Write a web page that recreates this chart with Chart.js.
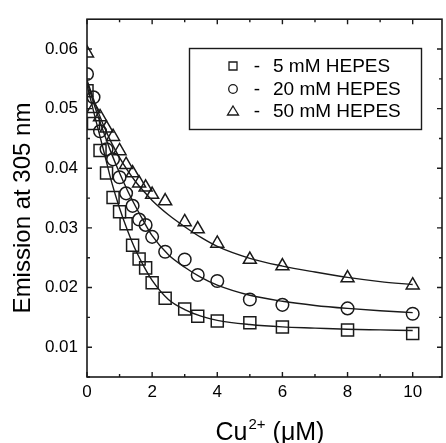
<!DOCTYPE html>
<html>
<head>
<meta charset="utf-8">
<script src="https://cdn.jsdelivr.net/npm/chart.js@4.4.0/dist/chart.umd.min.js"></script>
<style>
  html, body { margin: 0; padding: 0; background: #fff; overflow: hidden; width: 446px; height: 443px; }
  #wrap { position: relative; width: 452px; height: 443px; }
</style>
</head>
<body>
<div id="wrap"><canvas id="c" width="452" height="443"></canvas></div>
<script>
// ---- data ----
const cuConc = [0, 0.2, 0.4, 0.6, 0.8, 1.0, 1.2, 1.4, 1.6, 1.8, 2.0, 2.4, 3.0, 3.4, 4.0, 5.0, 6.0, 8.0, 10.0];
const hepes5  = [0.0530,0.0475,0.0430,0.0392,0.0351,0.0327,0.0307,0.0271,0.0248,0.0233,0.0208,0.0182,0.0164,0.0152,0.0144,0.0141,0.0134,0.0129,0.0123];
const hepes20 = [0.0558,0.0519,0.0462,0.0432,0.0415,0.0385,0.0358,0.0337,0.0314,0.0305,0.0285,0.0260,0.0247,0.0221,0.0211,0.0180,0.0171,0.0165,0.0156];
const hepes50 = [0.0593,0.0500,0.0486,0.0467,0.0453,0.0429,0.0406,0.0392,0.0375,0.0368,0.0356,0.0345,0.0310,0.0298,0.0274,0.0247,0.0236,0.0216,0.0204];

const fitConc = [0, 0.25, 0.5, 0.75, 1, 1.25, 1.5, 1.75, 2, 2.5, 3, 3.5, 4, 5, 6, 7, 8, 9, 10];
const fit5  = [0.0540,0.0485,0.0432,0.0378,0.0333,0.0295,0.0262,0.0235,0.0212,0.0180,0.0163,0.0152,0.0145,0.0138,0.0134,0.0132,0.0130,0.0129,0.0128];
const fit20 = [0.0545,0.0502,0.0462,0.0425,0.0392,0.0362,0.0335,0.0310,0.0287,0.0255,0.0234,0.0217,0.0204,0.0187,0.0177,0.0170,0.0165,0.0161,0.0158];
const fit50 = [0.0548,0.0508,0.0473,0.0443,0.0418,0.0396,0.0377,0.0361,0.0346,0.0322,0.0302,0.0284,0.0269,0.0249,0.0236,0.0226,0.0217,0.0210,0.0205];

const seriesNames = ['5 mM HEPES', '20 mM HEPES', '50 mM HEPES'];
const xTicks = [0, 2, 4, 6, 8, 10];
const xMinor = [1, 3, 5, 7, 9];
const yTicks = [0.01, 0.02, 0.03, 0.04, 0.05, 0.06];
const yMinor = [0.005, 0.015, 0.025, 0.035, 0.045, 0.055];
const xTitle = ['Cu', '2+', ' (\u03bcM)'];
const yTitle = 'Emission at 305 nm';

const FONT = '"Liberation Sans", Arial, sans-serif';
const INK = '#1a1a1a';

function pts(xs, ys) { return xs.map((x, i) => ({ x: x, y: ys[i] })); }

function fitDs(ys) {
  return { type: 'line', data: pts(fitConc, ys), borderColor: INK, borderWidth: 1.4,
    pointRadius: 0, fill: false, cubicInterpolationMode: 'monotone', order: 2 };
}
function markDs(label, ys, style, r) {
  return { type: 'scatter', label: label, data: pts(cuConc, ys), pointStyle: style, pointRadius: r,
    pointHoverRadius: r, borderColor: INK, backgroundColor: 'rgba(0,0,0,0)', pointBorderWidth: 1.5,
    showLine: false, order: 1 };
}

const frame = {
  id: 'frame',
  afterDraw(chart) {
    const ctx = chart.ctx, a = chart.chartArea;
    const xs = chart.scales.x, ys = chart.scales.y;
    ctx.save();
    ctx.strokeStyle = INK;
    ctx.lineWidth = 1.6;
    ctx.strokeRect(a.left, a.top, a.right - a.left, a.bottom - a.top);
    ctx.lineWidth = 1.4;
    ctx.beginPath();
    const tickX = (v, len) => {
      const p = xs.getPixelForValue(v);
      ctx.moveTo(p, a.bottom); ctx.lineTo(p, a.bottom - len);
      ctx.moveTo(p, a.top); ctx.lineTo(p, a.top + len);
    };
    const tickY = (v, len) => {
      const p = ys.getPixelForValue(v);
      ctx.moveTo(a.left, p); ctx.lineTo(a.left + len, p);
      ctx.moveTo(a.right, p); ctx.lineTo(a.right - len, p);
    };
    xTicks.forEach(v => tickX(v, 5)); xMinor.forEach(v => tickX(v, 3));
    yTicks.forEach(v => tickY(v, 5)); yMinor.forEach(v => tickY(v, 3));
    ctx.stroke();

    // legend box
    ctx.lineWidth = 1.4;
    ctx.strokeRect(189.5, 48.5, 232, 81);
    ctx.fillStyle = '#000';
    ctx.font = '19px ' + FONT;
    ctx.textBaseline = 'alphabetic';
    const base = [72, 95, 117];
    const cy = [66, 89, 111];
    seriesNames.forEach((n, i) => {
      ctx.textAlign = 'center';
      ctx.fillText('-', 257, base[i]);
      ctx.textAlign = 'left';
      ctx.fillText(n, 273, base[i]);
    });
    ctx.lineWidth = 1.3;
    ctx.beginPath(); ctx.rect(229, cy[0] - 4, 8, 8); ctx.stroke();
    ctx.beginPath(); ctx.arc(233, cy[1], 4.3, 0, Math.PI * 2); ctx.stroke();
    ctx.beginPath(); ctx.moveTo(233, cy[2] - 5); ctx.lineTo(238.5, cy[2] + 4); ctx.lineTo(227.5, cy[2] + 4); ctx.closePath(); ctx.stroke();

    // axis titles
    ctx.fillStyle = '#000';
    ctx.save();
    ctx.translate(30, 208);
    ctx.rotate(-Math.PI / 2);
    ctx.textAlign = 'center';
    ctx.font = '24px ' + FONT;
    ctx.fillText(yTitle, 0, 0);
    ctx.restore();

    ctx.textAlign = 'left';
    ctx.font = '25px ' + FONT;
    const w0 = ctx.measureText(xTitle[0]).width;
    ctx.font = '15px ' + FONT;
    const w1 = ctx.measureText(xTitle[1]).width;
    ctx.font = '25px ' + FONT;
    const w2 = ctx.measureText(xTitle[2]).width;
    let x0 = 270 - (w0 + w1 + 1 + w2) / 2;
    ctx.fillText(xTitle[0], x0, 440);
    ctx.font = '15px ' + FONT;
    ctx.fillText(xTitle[1], x0 + w0 + 1, 429);
    ctx.font = '25px ' + FONT;
    ctx.fillText(xTitle[2], x0 + w0 + 1 + w1, 440);
    ctx.restore();
  }
};

new Chart(document.getElementById('c'), {
  data: {
    datasets: [
      fitDs(fit5), fitDs(fit20), fitDs(fit50),
      markDs(seriesNames[0], hepes5, 'rect', 8.5),
      markDs(seriesNames[1], hepes20, 'circle', 6.3),
      markDs(seriesNames[2], hepes50, 'triangle', 7.5)
    ]
  },
  options: {
    responsive: false,
    animation: false,
    devicePixelRatio: 1,
    layout: { padding: { left: 0, top: 13, right: 3, bottom: 0 } },
    plugins: { legend: { display: false }, tooltip: { enabled: false } },
    scales: {
      x: {
        type: 'linear', min: 0, max: 10.9,
        grid: { display: false, drawTicks: false },
        border: { display: false },
        afterBuildTicks: s => { s.ticks = xTicks.map(v => ({ value: v })); },
        afterFit: s => { s.height = 66; },
        ticks: { padding: 5, color: '#000', font: { family: FONT, size: 17 }, maxRotation: 0,
          callback: v => String(v) }
      },
      y: {
        type: 'linear', min: 0.005, max: 0.065,
        grid: { display: false, drawTicks: false },
        border: { display: false },
        afterBuildTicks: s => { s.ticks = yTicks.map(v => ({ value: v })); },
        afterFit: s => { s.width = 87; },
        ticks: { padding: 9, color: '#000', font: { family: FONT, size: 17 },
          callback: v => v.toFixed(2) }
      }
    }
  },
  plugins: [frame]
});
</script>
</body>
</html>
